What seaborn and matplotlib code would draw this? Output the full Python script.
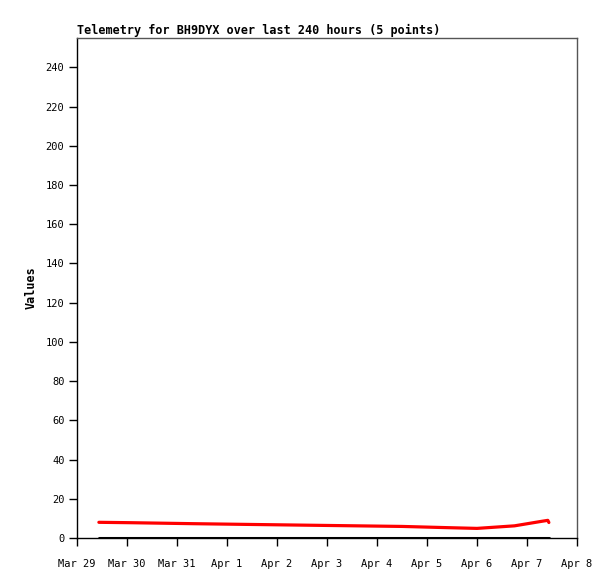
import matplotlib
matplotlib.use("Agg")
import matplotlib.pyplot as plt
import matplotlib.dates as mdates
import seaborn as sns
import pandas as pd
import numpy as np

# telemetry readings
times = pd.to_datetime([
    "2023-03-29 10:30", "2023-03-30 02:00", "2023-03-31 08:00", "2023-04-01 12:00",
    "2023-04-03 00:00", "2023-04-04 12:00", "2023-04-05 09:00", "2023-04-06 00:00",
    "2023-04-06 18:00", "2023-04-07 07:00", "2023-04-07 10:00", "2023-04-07 10:30",
])
red_vals = [8.0, 7.8, 7.3, 6.9, 6.4, 5.9, 5.3, 4.9, 6.2, 8.5, 9.0, 7.9]
black_vals = [0] * len(times)

sns.set_theme(style="white")
plt.rcParams["font.family"] = ["DejaVu Sans Mono"]
plt.rcParams["text.color"] = "black"
plt.rcParams["axes.labelcolor"] = "black"

fig = plt.figure(figsize=(6.15, 5.79), dpi=100)
ax = fig.add_axes([77 / 615, 41 / 579, 500 / 615, 500 / 579])

df = pd.DataFrame({"time": times, "red": red_vals, "black": black_vals})
sns.lineplot(data=df, x="time", y="black", ax=ax, color="black", linewidth=2.2)
sns.lineplot(data=df, x="time", y="red", ax=ax, color="#ff0000", linewidth=2.3)

ax.set_xlim(pd.Timestamp("2023-03-29"), pd.Timestamp("2023-04-08"))
ax.set_ylim(0, 255)
ax.set_yticks(np.arange(0, 241, 20))
ax.xaxis.set_major_locator(mdates.DayLocator())
ax.xaxis.set_major_formatter(mdates.DateFormatter("%b %-d"))

ax.tick_params(axis="both", direction="out", length=6, width=1, colors="black",
               labelsize=7.5, pad=3, bottom=True, left=True)
ax.tick_params(axis="x", pad=9)
ax.set_xlabel("")
ax.set_ylabel("Values", fontsize=8.5, fontweight="bold", labelpad=6)
ax.set_title("Telemetry for BH9DYX over last 240 hours (5 points)",
             fontsize=8.5, fontweight="bold", loc="left", pad=3)

for side in ["top", "right"]:
    ax.spines[side].set_color("#555555")
for side in ["left", "bottom"]:
    ax.spines[side].set_color("black")
for s in ax.spines.values():
    s.set_linewidth(1)

fig.savefig("out.png", dpi=100, facecolor="white")
